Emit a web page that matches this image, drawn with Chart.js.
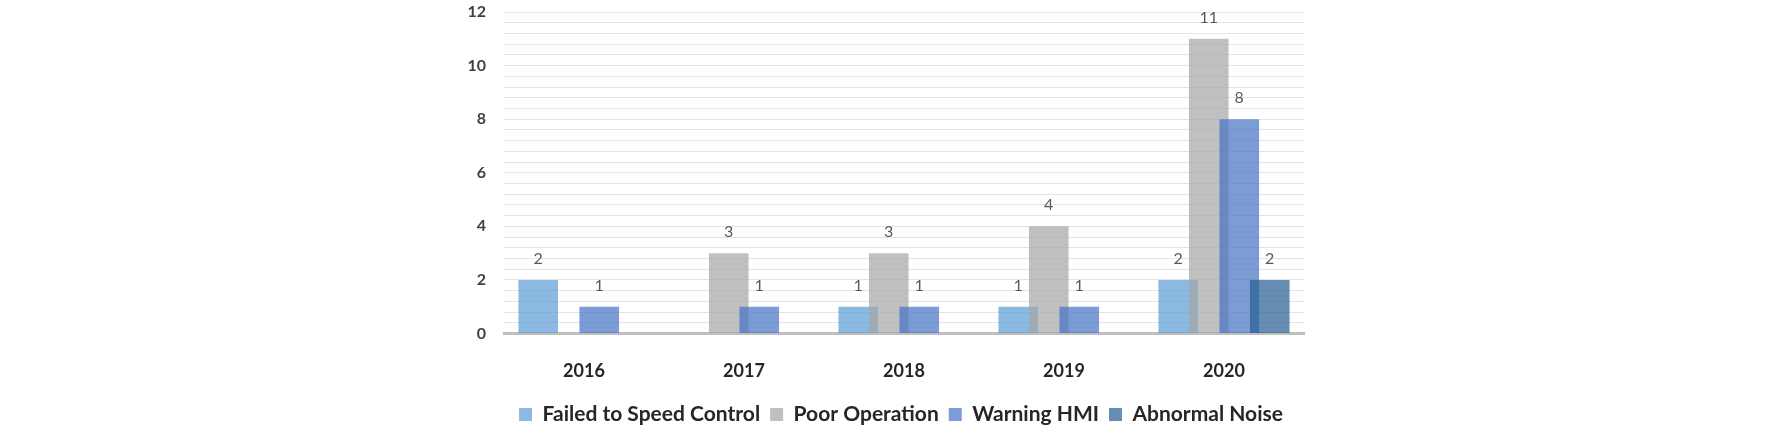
<!DOCTYPE html>
<html>
<head>
<meta charset="utf-8">
<script src="https://cdn.jsdelivr.net/npm/chart.js@4.4.1/dist/chart.umd.min.js"></script>
<style>
  html, body { margin: 0; padding: 0; background: #ffffff; }
  #wrap { width: 1772px; height: 428px; }
</style>
</head>
<body>
<div id="wrap"><canvas id="c" width="1772" height="428"></canvas></div>
<script>
// ---- data ----
const years = ['2016', '2017', '2018', '2019', '2020'];
const failedSpeedControl = [2, 0, 1, 1, 2];
const poorOperation = [0, 3, 3, 4, 11];
const warningHMI = [1, 1, 1, 1, 8];
const abnormalNoise = [0, 0, 0, 0, 2];
const seriesNames = ['Failed to Speed Control', 'Poor Operation', 'Warning HMI', 'Abnormal Noise'];
const yMax = 12;
const yLabelStep = 2;
const yGridStep = 0.4;

const FONT = 'Lato, "Open Sans", "DejaVu Sans", sans-serif';
const colors = ['rgba(91,155,213,0.7)', 'rgba(165,165,165,0.7)', 'rgba(68,114,196,0.7)', 'rgba(37,94,145,0.7)'];
const seriesData = [failedSpeedControl, poorOperation, warningHMI, abnormalNoise];

// draw datasets in forward order (later series on top), like the source
const forwardDraw = {
  id: 'forwardDraw',
  beforeDatasetsDraw(chart) {
    const ctx = chart.ctx;
    const area = chart.chartArea;
    const metas = chart.getSortedVisibleDatasetMetas();
    ctx.save();
    ctx.beginPath();
    ctx.rect(area.left, area.top - 2, area.right - area.left, area.bottom - area.top + 2);
    ctx.clip();
    metas.forEach(m => m.controller.draw());
    ctx.restore();
    return false;
  }
};

const valueLabels = {
  id: 'valueLabels',
  afterDraw(chart) {
    const ctx = chart.ctx;
    ctx.save();
    ctx.font = '16px ' + FONT;
    ctx.fillStyle = '#595959';
    ctx.textAlign = 'center';
    ctx.textBaseline = 'middle';
    chart.data.datasets.forEach((ds, i) => {
      const meta = chart.getDatasetMeta(i);
      meta.data.forEach((el, j) => {
        const v = ds.data[j];
        if (!v) return;
        ctx.fillText(String(v), el.x, el.y - 21);
      });
    });
    ctx.restore();
  }
};

new Chart(document.getElementById('c'), {
  type: 'bar',
  data: {
    labels: years,
    datasets: seriesNames.map((name, i) => ({
      label: name,
      data: seriesData[i],
      backgroundColor: colors[i],
      borderWidth: 0,
      categoryPercentage: 0.7625,
      barPercentage: 1.3
    }))
  },
  options: {
    responsive: false,
    animation: false,
    events: [],
    layout: { padding: { left: 30, right: 0, top: 12, bottom: -7 } },
    plugins: {
      tooltip: { enabled: false },
      legend: {
        position: 'bottom',
        labels: {
          font: { family: FONT, size: 21, weight: 'bold' },
          color: '#262626',
          boxWidth: 13,
          boxHeight: 13,
          padding: 10
        }
      }
    },
    scales: {
      x: {
        grid: { display: false, drawTicks: false },
        border: { display: true, color: '#BFBFBF', width: 3 },
        ticks: {
          font: { family: FONT, size: 18, weight: 'bold' },
          color: '#262626',
          padding: 27
        },
        afterFit(scale) { scale.height = 60.5; }
      },
      y: {
        min: 0,
        max: yMax,
        grid: {
          drawTicks: false,
          color: ctx => (ctx.tick && ctx.tick.value === 0) ? 'rgba(0,0,0,0)' : '#E4E4E4',
          lineWidth: 1
        },
        border: { display: false },
        ticks: {
          stepSize: yGridStep,
          autoSkip: false,
          padding: 18,
          font: { family: FONT, size: 16, weight: 'bold' },
          color: '#404040',
          callback(v) {
            const r = Math.round(v / yLabelStep) * yLabelStep;
            return Math.abs(v - r) < 1e-6 ? String(r) : '';
          }
        },
        afterFit(scale) { scale.width = 474; scale.paddingTop = 0; scale.paddingBottom = 0; }
      },
      yR: {
        type: 'linear',
        position: 'right',
        display: true,
        grid: { display: false, drawTicks: false },
        border: { display: false },
        ticks: { display: false },
        afterFit(scale) { scale.width = 468; scale.paddingTop = 0; scale.paddingBottom = 0; }
      }
    }
  },
  plugins: [forwardDraw, valueLabels]
});
</script>
</body>
</html>
